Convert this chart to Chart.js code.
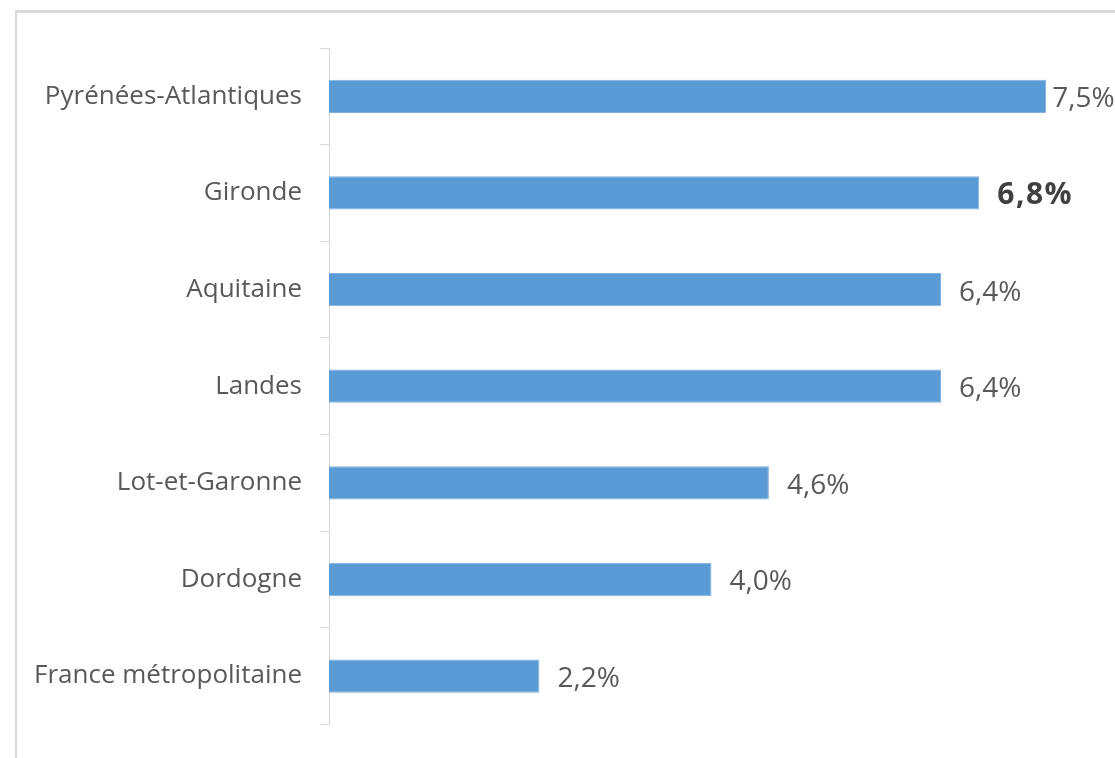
<!DOCTYPE html>
<html>
<head>
<meta charset="utf-8">
<script src="https://cdn.jsdelivr.net/npm/chart.js@4/dist/chart.umd.min.js"></script>
<style>
    html, body { margin: 0; padding: 0; background: #fff; overflow: hidden; }
    #wrap { position: relative; width: 1115px; height: 758px; overflow: hidden; }
    #frame {
        position: absolute; left: 15px; top: 10px; width: 1200px; height: 900px;
        border-left: 2px solid #d9d9d9; border-top: 3px solid #d9d9d9;
    }
    #taux { position: absolute; left: 0; top: 0; }
</style>
</head>
<body>
<div id="wrap">
    <div id="frame"></div>
    <canvas id="taux" width="1115" height="758"></canvas>
</div>
<script>
const labels = ['Pyrénées-Atlantiques', 'Gironde', 'Aquitaine', 'Landes', 'Lot-et-Garonne', 'Dordogne', 'France métropolitaine'];
const values = [7.5, 6.8, 6.4, 6.4, 4.6, 4.0, 2.2];
const boldLabels = [false, true, false, false, false, false, false];

const fontFamily = "'Open Sans', 'Noto Sans', sans-serif";

// values written next to the bars
const valueLabels = {
    id: 'valueLabels',
    afterDatasetsDraw(chart) {
        const ctx = chart.ctx;
        const meta = chart.getDatasetMeta(0);
        ctx.save();
        ctx.textBaseline = 'middle';
        ctx.textAlign = 'left';
        meta.data.forEach(function (bar, i) {
            let bold = boldLabels[i];
            let gap = i === 0 ? 6 : 18;
            ctx.font = bold ? '700 30px ' + fontFamily : '400 28px ' + fontFamily;
            ctx.letterSpacing = bold ? '1.5px' : '0px';
            ctx.fillStyle = bold ? '#404040' : '#595959';
            let txt = values[i].toFixed(1).replace('.', ',') + '%';
            ctx.fillText(txt, bar.x + gap, bar.y + 3);
        });
        ctx.restore();
    }
};

new Chart(document.getElementById('taux'), {
    type: 'bar',
    data: {
        labels: labels,
        datasets: [{
            data: values,
            backgroundColor: '#5b9bd5',
            borderColor: '#7fb2e0',
            borderWidth: 1,
            borderSkipped: 'start',
            barPercentage: 0.345,
            categoryPercentage: 1
        }]
    },
    options: {
        indexAxis: 'y',
        responsive: false,
        animation: false,
        layout: { padding: { top: 48, bottom: 31, right: 21, left: 0 } },
        plugins: {
            legend: { display: false },
            tooltip: { enabled: false }
        },
        scales: {
            x: {
                display: false,
                min: 0,
                max: 8
            },
            y: {
                afterFit: function (scale) { scale.width = 329; },
                border: { display: true, color: '#d9d9d9', width: 1 },
                grid: {
                    display: true,
                    drawOnChartArea: false,
                    drawTicks: true,
                    tickLength: 9,
                    color: '#d9d9d9',
                    offset: true
                },
                ticks: {
                    color: '#595959',
                    padding: 18,
                    font: { family: fontFamily, size: 26 }
                }
            }
        }
    },
    plugins: [valueLabels]
});
</script>
</body>
</html>
